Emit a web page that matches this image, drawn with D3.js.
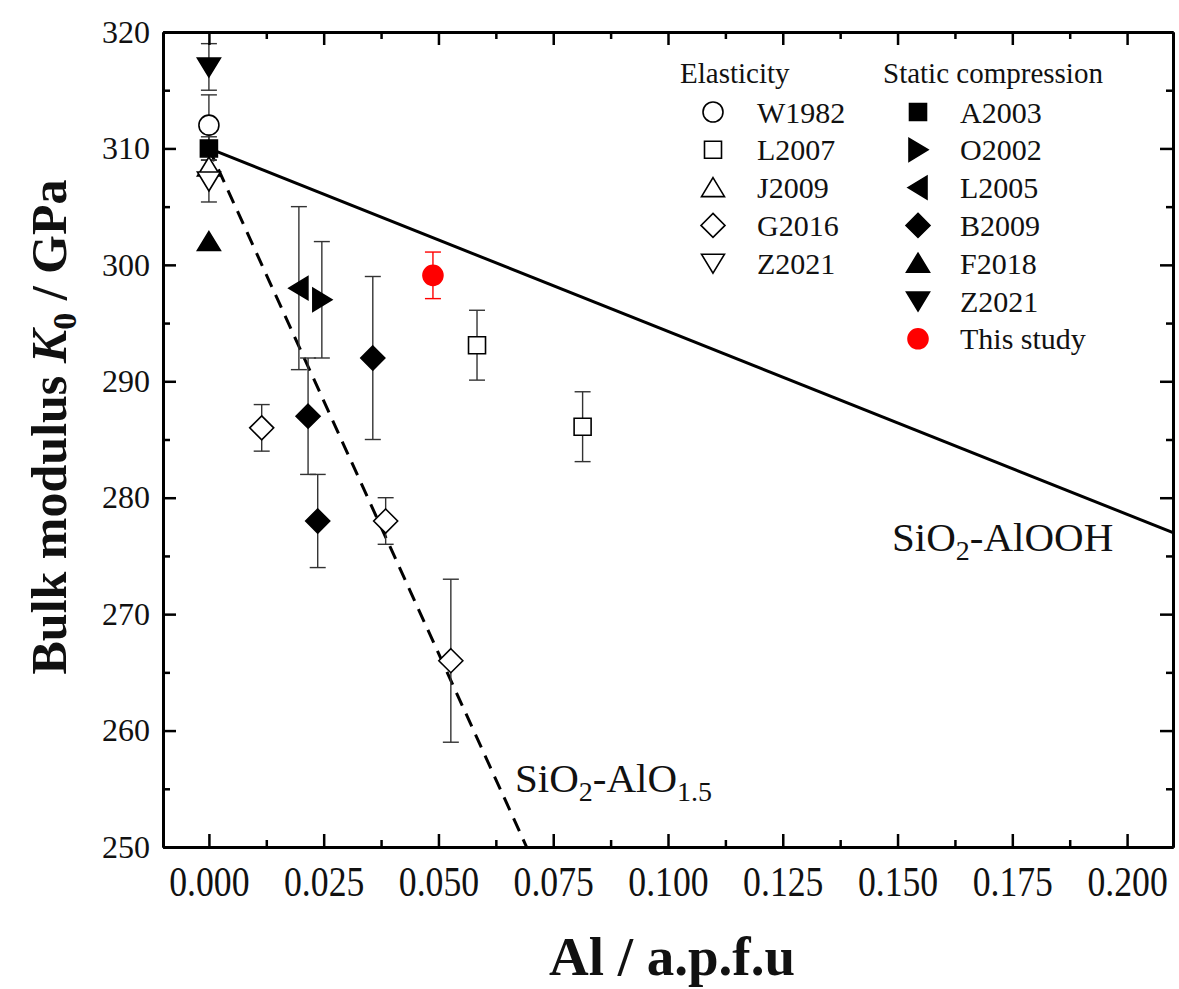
<!DOCTYPE html>
<html>
<head>
<meta charset="utf-8">
<script src="https://cdn.jsdelivr.net/npm/d3@7"></script>
<style>
    body { margin: 0; background: #fff; }
    svg { display: block; }
    text { font-family: "Liberation Serif", "DejaVu Serif", serif; fill: #111; }
</style>
</head>
<body>
<svg id="chart" width="1179" height="989"></svg>
<script>
// columns: Al (a.p.f.u), K0 (GPa), error (GPa)
const W1982 = [[0, 312, 2.6]];
const L2007 = [[0.0584, 293.1, 3], [0.0814, 286.1, 3]];
const J2009 = [[0, 308.4, 0]];
const G2016 = [[0.0115, 286, 2], [0.0385, 278, 2], [0.0527, 266, 7]];
const Z2021e = [[0, 307.2, 1.8]];
const A2003 = [[0, 310, 1]];
const O2002 = [[0.0246, 297, 5]];
const L2005 = [[0.0196, 298, 7]];
const B2009 = [[0.0216, 287, 5], [0.0237, 278, 4], [0.0357, 292, 7]];
const F2018 = [[0, 302, 0]];
const Z2021s = [[0, 317, 2]];
const thisStudy = [[0.0488, 299.1, 2]];

// fitted trends (end points)
const alOOHLine = [[0, 310], [0.21, 277]];
const alO15Line = [[0, 310], [0.0692, 250]];

const xTicks = [0, 0.025, 0.05, 0.075, 0.1, 0.125, 0.15, 0.175, 0.2];
const yTicks = [250, 260, 270, 280, 290, 300, 310, 320];

const elasticNames = ["W1982", "L2007", "J2009", "G2016", "Z2021"];
const staticNames = ["A2003", "O2002", "L2005", "B2009", "F2018", "Z2021", "This study"];

const elasticSeries = [
    {name: "W1982", data: W1982, shape: "circle", fill: "#fff"},
    {name: "L2007", data: L2007, shape: "square", fill: "#fff"},
    {name: "J2009", data: J2009, shape: "up", fill: "#fff"},
    {name: "G2016", data: G2016, shape: "diamond", fill: "#fff"},
    {name: "Z2021", data: Z2021e, shape: "down", fill: "#fff"}
];
const staticSeries = [
    {name: "A2003", data: A2003, shape: "square", fill: "#000"},
    {name: "O2002", data: O2002, shape: "right", fill: "#000"},
    {name: "L2005", data: L2005, shape: "left", fill: "#000"},
    {name: "B2009", data: B2009, shape: "diamond", fill: "#000"},
    {name: "F2018", data: F2018, shape: "up", fill: "#000"},
    {name: "Z2021", data: Z2021s, shape: "down", fill: "#000"},
    {name: "This study", data: thisStudy, shape: "circle", fill: "#f00", color: "#f00"}
];

const plotLeft = 163, plotRight = 1173, plotTop = 32, plotBottom = 847;
const x = d3.scaleLinear().domain([-0.01, 0.21]).range([plotLeft, plotRight]);
const y = d3.scaleLinear().domain([250, 320]).range([plotBottom, plotTop]);

const svg = d3.select("#chart");

function shapePath(shape) {
    switch (shape) {
        case "circle": return "M-10,0A10,10 0 1,0 10,0A10,10 0 1,0 -10,0Z";
        case "square": return "M-8.5,-8.5H8.5V8.5H-8.5Z";
        case "diamond": return "M0,-12L12,0L0,12L-12,0Z";
        case "up": return "M0,-10L11.5,9L-11.5,9Z";
        case "down": return "M0,10L11.5,-9L-11.5,-9Z";
        case "right": return "M10,0L-9,-11.5L-9,11.5Z";
        case "left": return "M-10,0L9,-11.5L9,11.5Z";
    }
}

// clip area for the fit lines
svg.append("clipPath").attr("id", "plot-clip")
    .append("rect").attr("x", plotLeft).attr("y", plotTop)
    .attr("width", plotRight - plotLeft).attr("height", plotBottom - plotTop);

const line = d3.line().x(d => x(d[0])).y(d => y(d[1]));
const lines = svg.append("g").attr("clip-path", "url(#plot-clip)");
lines.append("path").attr("d", line(alOOHLine))
    .attr("fill", "none").attr("stroke", "#000").attr("stroke-width", 3);
lines.append("path").attr("d", line(alO15Line))
    .attr("fill", "none").attr("stroke", "#000").attr("stroke-width", 3)
    .attr("stroke-dasharray", "14,9");

// error bars then markers
const allSeries = elasticSeries.concat(staticSeries);
const errG = svg.append("g");
allSeries.forEach(s => {
    const col = s.color || "#333";
    s.data.filter(d => d[2] > 0).forEach(d => {
        const cx = x(d[0]), y0 = y(d[1] - d[2]), y1 = y(d[1] + d[2]);
        errG.append("line").attr("x1", cx).attr("x2", cx).attr("y1", y0).attr("y2", y1)
            .attr("stroke", col).attr("stroke-width", 1.4);
        [y0, y1].forEach(yy => {
            errG.append("line").attr("x1", cx - 8).attr("x2", cx + 8).attr("y1", yy).attr("y2", yy)
                .attr("stroke", col).attr("stroke-width", 1.4);
        });
    });
});

const markG = svg.append("g");
allSeries.forEach(s => {
    markG.selectAll(null).data(s.data).join("path")
        .attr("d", shapePath(s.shape))
        .attr("transform", d => `translate(${x(d[0])},${y(d[1])})`)
        .attr("fill", s.fill)
        .attr("stroke", s.color || "#000")
        .attr("stroke-width", 1.6);
});

// axes
function styleAxis(g) {
    g.select(".domain").attr("stroke", "#000").attr("stroke-width", 3);
    g.selectAll(".tick line").attr("stroke", "#000").attr("stroke-width", 2.5);
}
const xMinor = d3.range(-0.0125, 0.22, 0.025).filter(v => v > -0.01 && v < 0.21);
const yMinor = d3.range(255, 320, 10);

const xAxisG = svg.append("g").attr("transform", `translate(0,${plotBottom})`)
    .call(d3.axisBottom(x).tickValues(xTicks).tickSize(-13).tickSizeOuter(0)
        .tickPadding(19).tickFormat(d3.format(".3f")))
    .call(styleAxis);
xAxisG.selectAll(".tick text").attr("font-size", 42).attr("transform", "scale(0.85,1)");
svg.append("g").attr("transform", `translate(0,${plotBottom})`)
    .call(d3.axisBottom(x).tickValues(xMinor).tickSize(-7).tickSizeOuter(0).tickFormat(""))
    .call(styleAxis);

svg.append("g").attr("transform", `translate(0,${plotTop})`)
    .call(d3.axisTop(x).tickValues(xTicks).tickSize(-13).tickSizeOuter(0).tickFormat(""))
    .call(styleAxis);
svg.append("g").attr("transform", `translate(0,${plotTop})`)
    .call(d3.axisTop(x).tickValues(xMinor).tickSize(-7).tickSizeOuter(0).tickFormat(""))
    .call(styleAxis);

const yAxisG = svg.append("g").attr("transform", `translate(${plotLeft},0)`)
    .call(d3.axisLeft(y).tickValues(yTicks).tickSize(-13).tickSizeOuter(0).tickPadding(13))
    .call(styleAxis);
yAxisG.selectAll(".tick text").attr("font-size", 32);
svg.append("g").attr("transform", `translate(${plotLeft},0)`)
    .call(d3.axisLeft(y).tickValues(yMinor).tickSize(-7).tickSizeOuter(0).tickFormat(""))
    .call(styleAxis);

svg.append("g").attr("transform", `translate(${plotRight},0)`)
    .call(d3.axisRight(y).tickValues(yTicks).tickSize(-13).tickSizeOuter(0).tickFormat(""))
    .call(styleAxis);
svg.append("g").attr("transform", `translate(${plotRight},0)`)
    .call(d3.axisRight(y).tickValues(yMinor).tickSize(-7).tickSizeOuter(0).tickFormat(""))
    .call(styleAxis);

// axis titles
svg.append("text")
    .attr("x", (plotLeft + plotRight) / 2 + 4).attr("y", 975)
    .attr("text-anchor", "middle").attr("font-size", 55).attr("font-weight", "bold")
    .text("Al / a.p.f.u");

const yTitle = svg.append("text")
    .attr("transform", "translate(66,427) rotate(-90)")
    .attr("text-anchor", "middle").attr("font-size", 50).attr("font-weight", "bold");
yTitle.append("tspan").text("Bulk modulus ");
yTitle.append("tspan").attr("font-style", "italic").text("K");
yTitle.append("tspan").attr("font-size", 34).attr("dy", 10).text("0");
yTitle.append("tspan").attr("dy", -10).text(" / GPa");

// trend labels
const t1 = svg.append("text").attr("x", 892).attr("y", 551).attr("font-size", 41);
t1.append("tspan").text("SiO");
t1.append("tspan").attr("font-size", 28).attr("dy", 9).text("2");
t1.append("tspan").attr("dy", -9).text("-AlOOH");

const t2 = svg.append("text").attr("x", 515).attr("y", 792).attr("font-size", 41);
t2.append("tspan").text("SiO");
t2.append("tspan").attr("font-size", 28).attr("dy", 9).text("2");
t2.append("tspan").attr("dy", -9).text("-AlO");
t2.append("tspan").attr("font-size", 28).attr("dy", 9).text("1.5");

// legend
const legend = svg.append("g");
const rowY = i => 112 + i * 37.8;
legend.append("text").attr("x", 680).attr("y", 83).attr("font-size", 29).text("Elasticity");
legend.append("text").attr("x", 883).attr("y", 83).attr("font-size", 29).text("Static compression");
elasticSeries.forEach((s, i) => {
    legend.append("path").attr("d", shapePath(s.shape))
        .attr("transform", `translate(713,${rowY(i)})`)
        .attr("fill", s.fill).attr("stroke", "#000").attr("stroke-width", 1.6);
    legend.append("text").attr("x", 757).attr("y", rowY(i)).attr("dy", "0.35em")
        .attr("font-size", 30).text(elasticNames[i]);
});
staticSeries.forEach((s, i) => {
    legend.append("path").attr("d", shapePath(s.shape))
        .attr("transform", `translate(918,${rowY(i)})`)
        .attr("fill", s.fill).attr("stroke", s.color || "#000").attr("stroke-width", 1.6);
    legend.append("text").attr("x", 960).attr("y", rowY(i)).attr("dy", "0.35em")
        .attr("font-size", 30).text(staticNames[i]);
});
</script>
</body>
</html>
